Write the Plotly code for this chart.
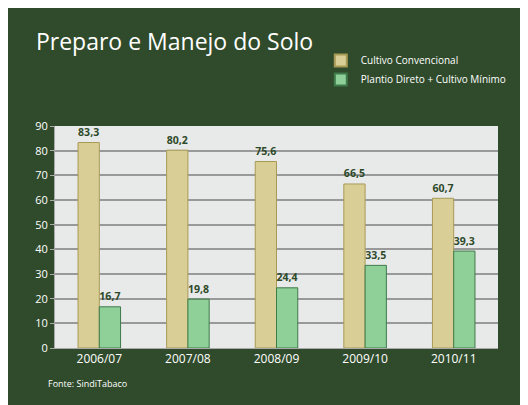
import plotly.graph_objects as go

categories = ["2006/07", "2007/08", "2008/09", "2009/10", "2010/11"]
convencional = [83.3, 80.2, 75.6, 66.5, 60.7]
plantio = [16.7, 19.8, 24.4, 33.5, 39.3]
tick_vals = list(range(0, 91, 10))

def fmt(v):
    return f"<b>{v:.1f}</b>".replace(".", ",")

fig = go.Figure()
fig.add_bar(x=categories, y=convencional, name="Cultivo Convencional",
            marker=dict(color="#d9cf96", line=dict(color="#a89a55", width=1)),
            text=[fmt(v) for v in convencional], textposition="outside",
            textfont=dict(color="#2e4a2a", size=12, family="Open Sans"), cliponaxis=False)
fig.add_bar(x=categories, y=plantio, name="Plantio Direto + Cultivo Mínimo",
            marker=dict(color="#8fcf98", line=dict(color="#3f7a4a", width=1)),
            text=[fmt(v) for v in plantio], textposition="outside",
            textfont=dict(color="#2e4a2a", size=12, family="Open Sans"), cliponaxis=False)

fig.update_layout(
    width=528, height=405,
    paper_bgcolor="#2f4b2b", plot_bgcolor="#e8e9e9",
    margin=dict(l=47, r=38, t=118, b=65),
    barmode="group", bargap=0.52, bargroupgap=0.0,
    font=dict(family="Open Sans", color="white"),
    title=dict(text="Preparo e Manejo do Solo", x=0.053, y=0.935, xanchor="left",
               font=dict(size=23, color="white")),
    legend=dict(x=0.6, y=1.36, xanchor="left", yanchor="top", font=dict(size=10, color="white"),
                bgcolor="rgba(0,0,0,0)", tracegroupgap=14, itemsizing="constant"),
    showlegend=True,
    annotations=[dict(text="Fonte: SindiTabaco", x=-0.02, y=-0.2, xref="paper", yref="paper",
                      xanchor="left", showarrow=False, font=dict(size=9, color="white"))],
)
fig.update_yaxes(range=[0, 90], tickvals=tick_vals, gridcolor="#999999", gridwidth=1.5,
                 tickfont=dict(size=11, color="white"), ticks="outside", ticklen=4,
                 tickcolor="#aaaaaa", zeroline=False, showline=True, linecolor="#aaaaaa")
fig.update_xaxes(tickfont=dict(size=12, color="white"), showline=True, linecolor="#aaaaaa")
fig.write_html("out.html")
